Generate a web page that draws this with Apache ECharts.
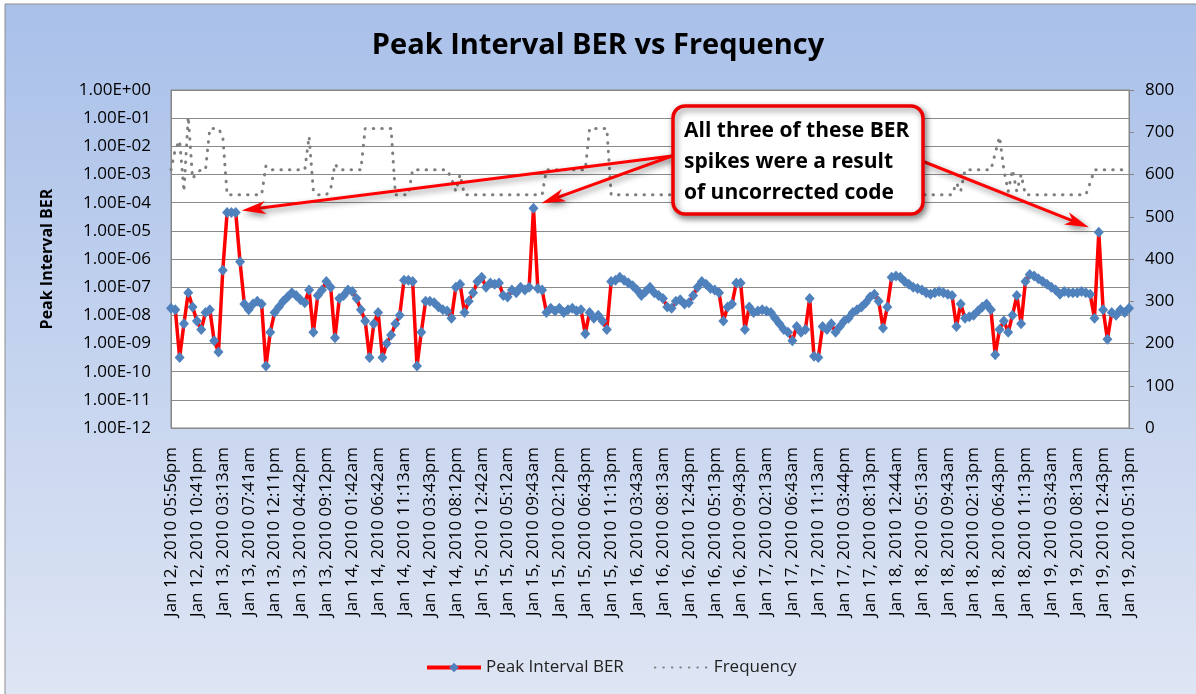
<!DOCTYPE html>
<html>
<head>
<meta charset="utf-8">
<title>Peak Interval BER vs Frequency</title>
<script src="https://cdn.jsdelivr.net/npm/echarts@6/dist/echarts.min.js"></script>
<style>
  html, body { margin: 0; padding: 0; background: #fff; }
  #chart-container { width: 1196px; height: 694px; }
</style>
</head>
<body>
<div id="chart-container"></div>
<script>
var dom = document.getElementById('chart-container');
var myChart = echarts.init(dom, null, { renderer: 'canvas' });

// one label every 6 samples
var tickLabels = [
  'Jan 12, 2010 05:56pm', 'Jan 12, 2010 10:41pm', 'Jan 13, 2010 03:13am', 'Jan 13, 2010 07:41am',
  'Jan 13, 2010 12:11pm', 'Jan 13, 2010 04:42pm', 'Jan 13, 2010 09:12pm', 'Jan 14, 2010 01:42am',
  'Jan 14, 2010 06:42am', 'Jan 14, 2010 11:13am', 'Jan 14, 2010 03:43pm', 'Jan 14, 2010 08:12pm',
  'Jan 15, 2010 12:42am', 'Jan 15, 2010 05:12am', 'Jan 15, 2010 09:43am', 'Jan 15, 2010 02:12pm',
  'Jan 15, 2010 06:43pm', 'Jan 15, 2010 11:13pm', 'Jan 16, 2010 03:43am', 'Jan 16, 2010 08:13am',
  'Jan 16, 2010 12:43pm', 'Jan 16, 2010 05:13pm', 'Jan 16, 2010 09:43pm', 'Jan 17, 2010 02:13am',
  'Jan 17, 2010 06:43am', 'Jan 17, 2010 11:13am', 'Jan 17, 2010 03:44pm', 'Jan 17, 2010 08:13pm',
  'Jan 18, 2010 12:44am', 'Jan 18, 2010 05:13am', 'Jan 18, 2010 09:43am', 'Jan 18, 2010 02:13pm',
  'Jan 18, 2010 06:43pm', 'Jan 18, 2010 11:13pm', 'Jan 19, 2010 03:43am', 'Jan 19, 2010 08:13am',
  'Jan 19, 2010 12:43pm', 'Jan 19, 2010 05:13pm'
];
var samplesPerTick = 6;

// Peak Interval BER, as powers of ten (log10 of the BER)
var berExp = [
  -7.75, -7.8, -9.5, -8.3, -7.2, -7.7,
  -8.2, -8.5, -7.9, -7.8, -8.9, -9.3,
  -6.4, -4.35, -4.35, -4.35, -6.1, -7.6,
  -7.8, -7.6, -7.5, -7.6, -9.8, -8.6,
  -7.9, -7.7, -7.5, -7.35, -7.2, -7.3,
  -7.45, -7.55, -7.1, -8.6, -7.3, -7.1,
  -6.8, -7.0, -8.8, -7.4, -7.3, -7.1,
  -7.15, -7.4, -7.8, -8.2, -9.5, -8.3,
  -7.9, -9.5, -9.0, -8.7, -8.3, -8.0,
  -6.75, -6.75, -6.8, -9.8, -8.6, -7.5,
  -7.5, -7.55, -7.7, -7.8, -7.85, -8.1,
  -7.0, -6.9, -7.9, -7.5, -7.2, -6.8,
  -6.65, -7.0, -6.85, -6.9, -6.85, -7.3,
  -7.35, -7.1, -7.2, -7.0, -7.1, -7.0,
  -4.2, -7.05, -7.1, -7.9, -7.75, -7.85,
  -7.75, -7.9, -7.8, -7.75, -7.85, -7.8,
  -8.65, -7.9, -8.1, -8.0, -8.2, -8.5,
  -6.8, -6.75, -6.65, -6.75, -6.85, -6.95,
  -7.1, -7.3, -7.15, -7.0, -7.2, -7.3,
  -7.4, -7.7, -7.75, -7.5, -7.45, -7.6,
  -7.55, -7.3, -7.0, -6.8, -6.9, -7.05,
  -7.1, -7.2, -8.2, -7.7, -7.6, -6.85,
  -6.85, -8.5, -7.7, -7.9, -7.85, -7.8,
  -7.85, -7.9, -8.1, -8.3, -8.5, -8.6,
  -8.9, -8.4, -8.6, -8.5, -7.4, -9.45,
  -9.5, -8.4, -8.5, -8.3, -8.6, -8.4,
  -8.2, -8.1, -7.9, -7.8, -7.7, -7.55,
  -7.35, -7.25, -7.5, -8.45, -7.7, -6.65,
  -6.6, -6.65, -6.8, -6.9, -7.0, -7.05,
  -7.1, -7.2, -7.25, -7.2, -7.15, -7.2,
  -7.25, -7.3, -8.4, -7.6, -8.1, -8.05,
  -8.0, -7.85, -7.7, -7.6, -7.8, -9.4,
  -8.5, -8.2, -8.6, -8.0, -7.3, -8.3,
  -6.8, -6.55, -6.6, -6.7, -6.8, -6.9,
  -7.0, -7.1, -7.25, -7.15, -7.2, -7.2,
  -7.2, -7.15, -7.2, -7.25, -8.1, -5.05,
  -7.8, -8.85, -7.9, -8.0, -7.8, -7.9, -7.75
];

// Frequency (right axis)
var frequency = [
  611, 660, 680, 560, 737, 590,
  605, 611, 611, 709, 709, 709,
  690, 552, 552, 552, 552, 552,
  552, 552, 552, 552, 620, 611,
  611, 611, 611, 611, 611, 611,
  611, 611, 690, 560, 552, 552,
  552, 565, 625, 611, 611, 611,
  611, 611, 611, 709, 709, 709,
  709, 709, 709, 709, 552, 552,
  552, 552, 611, 611, 611, 611,
  611, 611, 611, 611, 611, 590,
  560, 600, 552, 552, 552, 552,
  552, 552, 552, 552, 552, 552,
  552, 552, 552, 552, 552, 552,
  552, 552, 552, 611, 611, 611,
  611, 611, 611, 611, 611, 611,
  611, 709, 709, 709, 709, 709,
  552, 552, 552, 552, 552, 552,
  552, 552, 552, 552, 552, 552,
  552, 552, 552, 552, 552, 552,
  552, 552, 552, 552, 552, 552,
  552, 552, 552, 552, 552, 552,
  552, 552, 552, 552, 552, 552,
  552, 552, 552, 552, 552, 552,
  552, 552, 552, 552, 552, 552,
  552, 552, 552, 552, 552, 552,
  552, 552, 552, 552, 552, 552,
  552, 552, 552, 552, 552, 552,
  552, 552, 552, 552, 552, 552,
  552, 552, 552, 552, 552, 552,
  552, 552, 580, 560, 611, 611,
  611, 611, 611, 611, 611, 650,
  689, 611, 560, 611, 560, 600,
  552, 552, 552, 552, 552, 552,
  552, 552, 552, 552, 552, 552,
  552, 552, 552, 580, 611, 611,
  611, 611, 611, 611, 611, 611, 611
];

var calloutLines = ['All three of these BER', 'spikes were a result', 'of uncorrected code'];
var spikeIdx = [15, 84, 215];

var categories = berExp.map(function (v, i) { return String(i); });

function sciLabel(e) {
  var a = Math.abs(Math.round(e));
  return '1.00E' + (e < 0 ? '-' : '+') + (a < 10 ? '0' + a : a);
}

var FONT = 'Open Sans';

var option = {
  animation: false,
  textStyle: { fontFamily: FONT },
  title: {
    text: 'Peak Interval BER vs Frequency',
    left: 'center',
    top: 26,
    textStyle: { fontSize: 29, fontWeight: 'bold', color: '#000', fontFamily: FONT }
  },
  legend: {
    left: 420,
    top: 654,
    itemWidth: 54,
    itemHeight: 12,
    itemGap: 30,
    textStyle: { fontSize: 17, color: '#222', fontFamily: FONT },
    data: [
      { name: 'Peak Interval BER', lineStyle: { width: 4 } },
      { name: 'Frequency' }
    ]
  },
  grid: {
    left: 171, top: 90, width: 958, height: 338,
    show: true, backgroundColor: '#fff', borderColor: '#868686', borderWidth: 1
  },
  xAxis: {
    type: 'category',
    data: categories,
    boundaryGap: false,
    axisLine: { lineStyle: { color: '#868686' } },
    axisTick: { show: false },
    axisLabel: {
      interval: samplesPerTick - 1,
      rotate: 90,
      margin: 19,
      fontSize: 17,
      color: '#000',
      fontFamily: FONT,
      formatter: function (v, idx) { return tickLabels[idx / samplesPerTick] || ''; }
    },
    splitLine: { show: false }
  },
  yAxis: [{
    type: 'value',
    min: -12,
    max: 0,
    interval: 1,
    name: 'Peak Interval BER',
    nameLocation: 'middle',
    nameGap: 116,
    nameTextStyle: { fontSize: 16, fontWeight: 'bold', color: '#000', fontFamily: FONT },
    axisLine: { show: true, lineStyle: { color: '#868686' } },
    axisTick: { show: false },
    axisLabel: { fontSize: 17, color: '#000', margin: 20, fontFamily: FONT, formatter: sciLabel },
    splitLine: { lineStyle: { color: '#8a8a8a', width: 1 } }
  }, {
    type: 'value',
    position: 'right',
    min: 0,
    max: 800,
    interval: 100,
    axisLine: { show: true, lineStyle: { color: '#868686' } },
    axisTick: { show: true, length: 5, lineStyle: { color: '#868686' } },
    axisLabel: { fontSize: 17, color: '#000', margin: 16, fontFamily: FONT },
    splitLine: { show: false }
  }],
  series: [{
    name: 'Peak Interval BER',
    type: 'line',
    yAxisIndex: 0,
    data: berExp,
    symbol: 'diamond',
    symbolSize: [10, 11],
    showAllSymbol: true,
    lineStyle: { color: '#ff0000', width: 3.5 },
    itemStyle: { color: '#4f81bd' },
    emphasis: { disabled: true },
    z: 3
  }, {
    name: 'Frequency',
    type: 'line',
    yAxisIndex: 1,
    data: frequency,
    showSymbol: false,
    symbol: 'none',
    lineStyle: { color: '#7f7f7f', width: 3, type: [0.5, 8], cap: 'round' },
    itemStyle: { color: 'rgba(0,0,0,0)' },
    emphasis: { disabled: true },
    z: 2
  }]
};

myChart.setOption(option);

// callout box and arrows
var shadow = { shadowBlur: 6, shadowColor: 'rgba(0,0,0,0.45)', shadowOffsetX: 2, shadowOffsetY: 3 };
function arrow(from, to) {
  var dx = to[0] - from[0], dy = to[1] - from[1];
  var len = Math.sqrt(dx * dx + dy * dy);
  var ux = dx / len, uy = dy / len;
  var hl = 24, hw = 6.5;
  var bx = to[0] - ux * hl, by = to[1] - uy * hl;
  var nx = to[0] - ux * hl * 0.72, ny = to[1] - uy * hl * 0.72;
  return [{
    type: 'line', z: 40,
    shape: { x1: from[0], y1: from[1], x2: nx, y2: ny },
    style: Object.assign({ stroke: '#ff0000', lineWidth: 3 }, shadow)
  }, {
    type: 'polygon', z: 41,
    shape: { points: [[to[0], to[1]], [bx - uy * hw, by + ux * hw], [nx, ny], [bx + uy * hw, by - ux * hw]] },
    style: Object.assign({ fill: '#ff0000' }, shadow)
  }];
}

var tips = spikeIdx.map(function (i) {
  return myChart.convertToPixel({ seriesIndex: 0 }, [i, berExp[i]]);
});
var els = [{
  type: 'rect', z: -100, silent: true,
  shape: { x: 5, y: 4, width: 1200, height: 700 },
  style: {
    fill: new echarts.graphic.LinearGradient(0, 0, 0, 1, [
      { offset: 0, color: '#a9c0e9' }, { offset: 1, color: '#dfe6f4' }
    ]),
    stroke: '#8c8c8c', lineWidth: 1
  }
}];
els = els.concat(arrow([672, 156], [tips[0][0] + 6, tips[0][1] - 2]));
els = els.concat(arrow([672, 156], [tips[1][0] + 8, tips[1][1] - 5]));
els = els.concat(arrow([922, 161], [tips[2][0] - 10, tips[2][1] - 5]));
els.push({
  type: 'rect', z: 60,
  shape: { x: 673, y: 106, width: 250, height: 108, r: 12 },
  style: Object.assign({ fill: '#fff', stroke: '#ee0000', lineWidth: 3.5 }, shadow)
});
els.push({
  type: 'text', z: 61, x: 684, y: 116,
  style: {
    text: calloutLines.join('\n'),
    font: 'bold 21px "Open Sans"',
    lineHeight: 31,
    fill: '#000'
  }
});
myChart.setOption({ graphic: { elements: els } });

window.addEventListener('resize', myChart.resize);
</script>
</body>
</html>
